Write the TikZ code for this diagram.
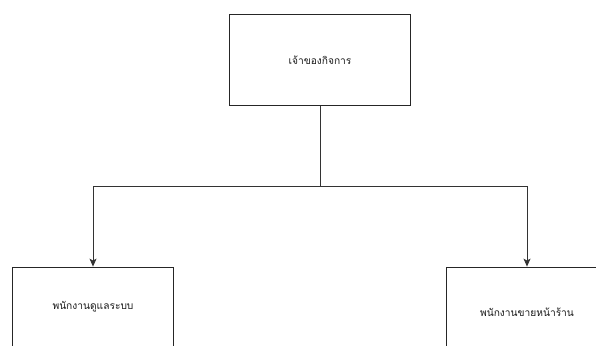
\documentclass[tikz,border=0pt]{standalone}
\usepackage{fontspec}
\newfontfamily\thaifont[Script=Thai]{Loma}
\usetikzlibrary{arrows.meta}
\begin{document}
\begin{tikzpicture}[x=1pt,y=-1pt,
  box/.style={draw=black!85,line width=0.8pt,rectangle,minimum width=181pt,minimum height=91pt,inner sep=0pt},
  bbox/.style={box,minimum width=161pt,minimum height=91pt},
  lbl/.style={font=\thaifont\fontsize{10.2}{12}\selectfont,text=black!90},
  conn/.style={draw=black!80,line width=0.8pt,-{Stealth[length=8pt,width=7pt,inset=2pt]}}]
\useasboundingbox (0,0) rectangle (596,345);
\clip (0,0) rectangle (596,345);
\fill[white] (0,0) rectangle (596,345);
\node[box] (owner) at (320,60) {};
\node[lbl] (ownert) at (320,60) {เจ้าของกิจการ};
\node[bbox] (staff1) at (93,312.5) {};
\node[lbl] (staff1t) at (93,307) {พนักงานดูแลระบบ};
\node[bbox] (staff2) at (527,312.5) {};
\node[lbl] (staff2t) at (527,312) {พนักงานขายหน้าร้าน};
\coordinate (mid) at (320,186);
\draw[conn] (owner.south) -- (mid) -| (staff1.north);
\draw[conn] (mid) -| (staff2.north);
\end{tikzpicture}
\end{document}
